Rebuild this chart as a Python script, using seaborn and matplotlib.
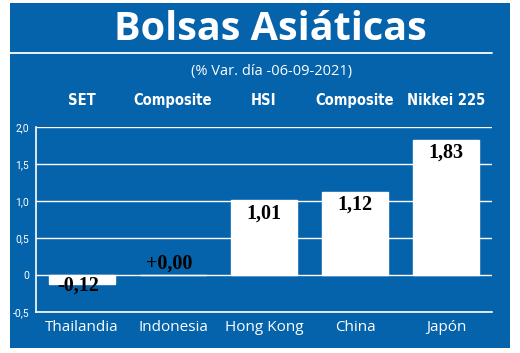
import matplotlib
matplotlib.use("Agg")
import matplotlib.pyplot as plt
import seaborn as sns
import pandas as pd
from matplotlib.patches import Rectangle
from matplotlib.lines import Line2D

paises = ["Thailandia", "Indonesia", "Hong Kong", "China", "Japón"]
indices = ["SET", "Composite", "HSI", "Composite", "Nikkei 225"]
variacion = [-0.12, 0.00, 1.01, 1.12, 1.83]
etiquetas = ["-0,12", "+0,00", "1,01", "1,12", "1,83"]
yticks = [-0.5, 0, 0.5, 1.0, 1.5, 2.0]
ytick_labels = ["-0,5", "0", "0,5", "1,0", "1,5", "2,0"]

azul = "#0563AC"

df = pd.DataFrame({"pais": paises, "var": variacion})

sns.set_style("white")
plt.rcParams["font.family"] = ["Open Sans", "DejaVu Sans"]

fig = plt.figure(figsize=(5.2, 3.53), dpi=100)
fig.patch.set_facecolor("white")

# blue panel, behind the axes
fig.patches.append(Rectangle((10 / 520, 1 - 348 / 353), 500 / 520, 345 / 353,
                             transform=fig.transFigure, facecolor=azul,
                             edgecolor="none", zorder=-5))

fig.text(270 / 520, 1 - 29 / 353, "Bolsas Asiáticas", color="white",
         fontsize=28.5, fontweight="bold", ha="center", va="center")
fig.lines.append(Line2D([10 / 520, 492 / 520], [1 - 53 / 353, 1 - 53 / 353],
                        transform=fig.transFigure, color="white", lw=1.3))
fig.text(272 / 520, 1 - 71 / 353, "(% Var. día -06-09-2021)", color="white",
         fontsize=10.5, ha="center", va="center")

ax = fig.add_axes([36 / 520, 1 - 312 / 353, 456 / 520, 185 / 353])
ax.set_facecolor(azul)

sns.barplot(data=df, x="pais", y="var", color="white", width=0.72,
            saturation=1, ax=ax, zorder=3)

ax.set_xlim(-0.505, 4.505)
ax.set_ylim(-0.5, 2.0)
ax.set_yticks(yticks)
ax.set_yticklabels(ytick_labels, color="white", fontsize=7.5,
                   family="Roboto")
ax.yaxis.grid(True, color="white", lw=1.0, zorder=0)
ax.set_axisbelow(True)
ax.tick_params(axis="both", length=0, pad=5)
ax.tick_params(axis="x", colors="white", labelsize=11, pad=6)
ax.set_xlabel("")
ax.set_ylabel("")
for s in ["top", "right"]:
    ax.spines[s].set_visible(False)
for s in ["left", "bottom"]:
    ax.spines[s].set_color("white")
    ax.spines[s].set_linewidth(1.2)

# index names above the plot
for i, nombre in enumerate(indices):
    ax.annotate(nombre, xy=(i, 1.0), xycoords=("data", "axes fraction"),
                xytext=(0, 19), textcoords="offset points", ha="center",
                va="center", color="white", fontsize=10.5, fontweight="bold",
                family="DejaVu Sans", fontstretch="condensed")

# value labels
for i, (v, t) in enumerate(zip(variacion, etiquetas)):
    if v > 0:
        y, va = v - 0.04, "top"
    elif v < 0:
        y, va = v - 0.02, "center"
    else:
        y, va = 0.15, "center"
    ax.text(i - 0.04 if v <= 0 else i, y, t, ha="center", va=va, color="black",
            fontsize=14.5, fontweight="bold", family="Liberation Serif", zorder=5)

fig.savefig("out.png", dpi=100, facecolor="white")
